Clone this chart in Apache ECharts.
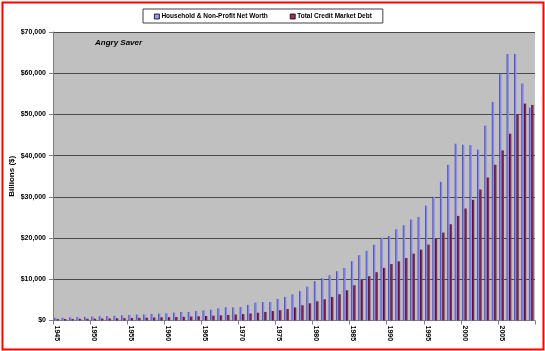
<!DOCTYPE html>
<html>
<head>
<meta charset="utf-8">
<script src="https://cdn.jsdelivr.net/npm/echarts@6/dist/echarts.min.js"></script>
<style>
html,body{margin:0;padding:0;background:#fff;}
#c{width:545px;height:351px;}
</style>
</head>
<body>
<div id="c"></div>
<script>
var years = ['1945','1946','1947','1948','1949','1950','1951','1952','1953','1954','1955','1956','1957','1958','1959','1960','1961','1962','1963','1964','1965','1966','1967','1968','1969','1970','1971','1972','1973','1974','1975','1976','1977','1978','1979','1980','1981','1982','1983','1984','1985','1986','1987','1988','1989','1990','1991','1992','1993','1994','1995','1996','1997','1998','1999','2000','2001','2002','2003','2004','2005','2006','2007','2008','2009'];

var netWorth = [650,680,760,850,880,950,1050,1100,1150,1250,1350,1450,1480,1600,1700,1750,1900,2060,2090,2310,2470,2640,2960,3220,3180,3280,3770,4340,4480,4500,5230,5720,6370,7150,8230,9530,10260,10990,11960,12770,14390,15850,16910,18370,20070,20500,22140,23110,24490,25140,27900,30010,33660,37790,42900,42660,42580,41440,47280,53040,59770,64640,64640,57500,51660];

var creditDebt = [350,360,380,400,420,450,480,510,540,570,620,650,680,720,770,800,840,900,960,1030,1100,1170,1250,1350,1450,1550,1700,1880,2080,2290,2500,2780,3170,3700,4180,4660,5150,5720,6370,7340,8560,9850,10750,11720,12770,13700,14350,15170,16220,17190,18410,19870,21330,23360,25380,27170,29280,31790,34710,37790,41280,45330,50040,52630,52310];

var yTicks = [0,10000,20000,30000,40000,50000,60000,70000];

var seriesNames = ['Household & Non-Profit Net Worth','Total Credit Market Debt'];

var chart = echarts.init(document.getElementById('c'), null, {renderer:'canvas'});
var font = '"Liberation Sans", Arial, sans-serif';

function grad(c0, c1, c2){
  return new echarts.graphic.LinearGradient(0,0,1,0,[
    {offset:0,color:c0},{offset:0.4,color:c1},{offset:1,color:c2}
  ]);
}

chart.setOption({
  animation:false,
  backgroundColor:'#ffffff',
  grid:{left:53,right:10,top:32,bottom:30.5,containLabel:false,outerBoundsMode:'none',
        show:true,backgroundColor:'#c0c0c0',borderWidth:0},
  legend:{
    left:143, top:9,
    padding:[4,11,3,11],
    itemGap:22,
    itemWidth:5, itemHeight:5,
    icon:'rect',
    backgroundColor:'#ffffff',
    borderColor:'#404040', borderWidth:1,
    textStyle:{fontFamily:font,fontSize:6.5,fontWeight:'bold',color:'#000',padding:[0,0,0,-3]},
    data:[
      {name:seriesNames[0],itemStyle:{color:'#9999ff',borderColor:'#000',borderWidth:0.8}},
      {name:seriesNames[1],itemStyle:{color:'#993366',borderColor:'#000',borderWidth:0.8}}
    ]
  },
  xAxis:{
    type:'category',
    data:years,
    boundaryGap:true,
    axisLine:{show:true,lineStyle:{color:'#808080',width:1}},
    axisTick:{show:true,interval:4,length:4,lineStyle:{color:'#808080'}},
    axisLabel:{interval:4,rotate:-90,margin:5,fontFamily:font,fontSize:7,fontWeight:'bold',color:'#000'},
    splitLine:{show:false}
  },
  yAxis:{
    type:'value',
    min:yTicks[0], max:yTicks[yTicks.length-1], interval:10000,
    name:'Billions ($)',
    nameLocation:'middle',
    nameGap:37,
    nameRotate:90,
    nameMoveOverlap:false,
    nameTextStyle:{fontFamily:font,fontSize:8,fontWeight:'bold',color:'#000'},
    axisLine:{show:true,lineStyle:{color:'#808080',width:1}},
    axisTick:{show:true,length:4,lineStyle:{color:'#808080'}},
    axisLabel:{margin:7,fontFamily:font,fontSize:7,fontWeight:'bold',color:'#000',
      formatter:function(v){return '$'+v.toLocaleString('en-US');}},
    splitLine:{show:true,lineStyle:{color:'#4a4a4a',width:1}}
  },
  graphic:[
    {type:'text',left:95,top:39,style:{text:'Angry Saver',font:'italic bold 8px "Liberation Sans", Arial, sans-serif',fill:'#000'}},
    {type:'rect',left:0,top:0,shape:{x:1,y:1,width:541,height:347},style:{fill:'none',stroke:'#ff0000',lineWidth:2},z:100}
  ],
  series:[
    {name:seriesNames[0],type:'bar',data:netWorth,barGap:'0%',barCategoryGap:'36%',
     itemStyle:{color:grad('#2a2a66','#7c7cee','#9999ff')}},
    {name:seriesNames[1],type:'bar',data:creditDebt,
     itemStyle:{color:grad('#140010','#7a2454','#993366')}}
  ]
});
</script>
</body>
</html>
